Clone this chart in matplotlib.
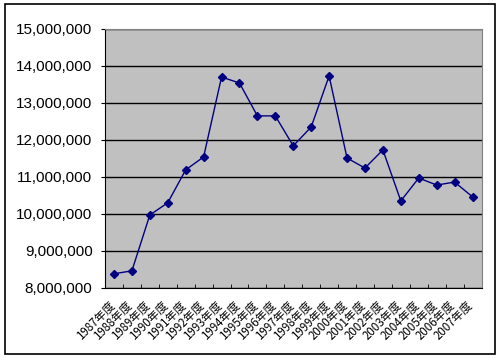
import matplotlib.pyplot as plt
from matplotlib.patches import Rectangle
from matplotlib.ticker import FuncFormatter, MultipleLocator
from matplotlib.transforms import ScaledTranslation

plt.rcParams['font.family'] = ['Noto Sans CJK JP', 'DejaVu Sans']

years = ['1987年度', '1988年度', '1989年度', '1990年度', '1991年度', '1992年度',
         '1993年度', '1994年度', '1995年度', '1996年度', '1997年度', '1998年度',
         '1999年度', '2000年度', '2001年度', '2002年度', '2003年度', '2004年度',
         '2005年度', '2006年度', '2007年度']
values = [8380000, 8460000, 9970000, 10300000, 11190000, 11540000,
          13700000, 13540000, 12650000, 12650000, 11840000, 12350000,
          13730000, 11510000, 11240000, 11730000, 10350000, 10970000,
          10780000, 10860000, 10460000]

fig = plt.figure(figsize=(5.0, 3.58), dpi=100)
# outer chart border
fig.patches.append(Rectangle((0.010, 0.012), 0.980, 0.978, transform=fig.transFigure,
                             fill=False, edgecolor='black', linewidth=1.2))

ax = fig.add_axes([0.210, 0.196, 0.753, 0.723])
ax.set_facecolor('#c0c0c0')

x = list(range(len(years)))
ax.plot(x, values, color='#000080', linewidth=1.0, marker='D', markersize=4.5,
        markerfacecolor='#000080', markeredgecolor='#000080')

ax.set_xlim(-0.5, len(years) - 0.5)
ax.set_ylim(8000000, 15000000)
ax.yaxis.set_major_locator(MultipleLocator(1000000))
ax.yaxis.set_major_formatter(FuncFormatter(lambda v, p: f'{int(v):,}'))
ax.grid(axis='y', color='black', linewidth=1.0)
ax.set_axisbelow(True)

ax.set_xticks(x)
ax.set_xticklabels(years, rotation=45, ha='right', rotation_mode='anchor', fontsize=8.3)
ax.set_xticks([i + 0.5 for i in x[:-1]], minor=True)
ax.tick_params(axis='x', which='major', length=0, pad=4)
ax.tick_params(axis='x', which='minor', direction='in', length=3, color='black')
ax.tick_params(axis='y', which='major', direction='out', length=3, labelsize=11, pad=6)
shift = ScaledTranslation(-6 / 100, -5 / 100, fig.dpi_scale_trans)
for lbl in ax.get_xticklabels():
    lbl.set_transform(lbl.get_transform() + shift)
for lbl in ax.get_yticklabels():
    lbl.set_family(['Liberation Sans', 'DejaVu Sans'])

for side in ['top', 'right']:
    ax.spines[side].set_color('#808080')
for side in ['left', 'bottom']:
    ax.spines[side].set_color('black')

plt.savefig('out.png', dpi=100)
